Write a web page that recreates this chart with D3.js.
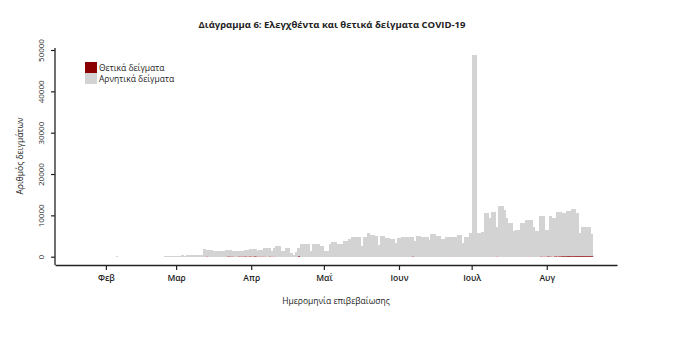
<!DOCTYPE html>
<html>
<head>
<meta charset="utf-8">
<script src="https://cdn.jsdelivr.net/npm/d3@7"></script>
<style>
  body { margin: 0; background: #fff; }
  svg { display: block; }
  text { font-family: "Open Sans", "Noto Sans", sans-serif; fill: #222; }
</style>
</head>
<body>
<script>
// Daily samples, starting 1 Feb 2020 (one value per day up to 19 Aug)
var startDate = "2020-02-01";

var negatives = [
  // Feb
  0,0,0,10,60,30,10,0,0,10, 0,0,10,0,0,20,10,0,0,10, 0,0,20,30,80,149,198,179,150,
  // Mar
  200,250,298,278,298,336,279,373,439,484, 510,1761,1527,1562,1569,1429,1394,1419,1404,1419,
  1565,1506,1429,1329,1352,1379,1376,1379,1505,1540, 1678,
  // Apr
  1730,1651,1246,1538,1542,1940,1976,1919,1348,2144, 2569,2580,1425,1425,2175,2169,937,483,1188,2044,
  2988,2967,2988,2990,1435,2989,2988,2985,2588,2585,
  // May
  1438,1435,2990,3492,3494,2991,2989,2990,3885,3894, 4294,4685,4795,4792,4790,2594,4690,4696,5642,5245,
  5247,4992,2790,5096,5100,4441,4435,4193,4193,3228, 4430,
  // Jun
  4448,4835,4841,4684,4688,4603,3786,4967,4985,4838, 4845,4837,3991,5392,5383,5080,5082,4275,4283,4669,
  4668,4801,4828,4840,5231,5240,3236,4686,4684,5637,
  // Jul
  48864,48886,5772,5786,5979,10479,10482,9250,10880,10872, 7235,12259,12281,11280,9279,8085,8068,6060,6481,6483,
  8167,8179,8873,8845,8873,7280,6072,6070,9722,9743, 6446,
  // Aug
  6390,9725,9248,9179,10803,10775,10347,10349,10897,10904, 11350,11238,10238,5596,7070,7083,7132,7083,5131
];

var positives = [
  // Feb
  0,0,0,0,0,0,0,0,0,0, 0,0,0,0,0,0,0,0,0,0, 0,0,0,0,0,1,2,1,0,
  // Mar
  0,0,2,2,22,14,21,7,11,16, 10,19,73,38,31,21,56,31,46,31, 35,94,71,71,48,71,74,71,95,60, 102,
  // Apr
  50,129,54,62,58,60,24,81,52,56, 31,20,25,25,25,31,33,17,12,156, 12,33,12,10,15,11,12,15,12,15,
  // May
  12,15,10,8,6,9,11,10,15,6, 6,15,5,8,10,6,10,4,8,5, 3,8,10,4,0,9,15,7,7,22, 20,
  // Jun
  2,15,9,16,12,97,14,33,15,12, 5,13,9,8,17,20,18,25,17,31, 32,49,22,10,19,10,14,14,16,13,
  // Jul
  36,14,28,14,21,21,18,50,20,28, 65,41,19,20,21,15,32,40,19,17, 33,21,27,55,27,20,28,30,78,57, 54,
  // Aug
  110,75,52,121,97,125,153,151,203,196, 150,262,262,204,230,217,168,217,269
];

var monthTicks = ["2020-02-01","2020-03-01","2020-04-01","2020-05-01","2020-06-01","2020-07-01","2020-08-01"];
var monthLabels = ["Φεβ","Μαρ","Απρ","Μαΐ","Ιουν","Ιουλ","Αυγ"];
var yTicks = [0, 10000, 20000, 30000, 40000, 50000];

var seriesNames = ["Θετικά δείγματα", "Αρνητικά δείγματα"];
var seriesColors = ["#8b0000", "#d3d3d3"];

var title = "Διάγραμμα 6: Ελεγχθέντα και θετικά δείγματα COVID-19";
var xTitle = "Ημερομηνία επιβεβαίωσης";
var yTitle = "Αριθμός δειγμάτων";

// build rows
var day0 = new Date(startDate + "T00:00:00Z");
var rows = negatives.map(function(n, i) {
  return { date: d3.utcDay.offset(day0, i), pos: positives[i], neg: n };
});

var width = 687, height = 339;
var svg = d3.select("body").append("svg")
    .attr("width", width)
    .attr("height", height);

var x = d3.scaleUtc()
    .domain([new Date("2020-01-11T00:00:00Z"), new Date("2020-08-30T00:00:00Z")])
    .range([55, 617]);

var y = d3.scaleLinear()
    .domain([0, 50000])
    .range([256.7, 50]);

var stack = d3.stack().keys(["pos", "neg"]);
var layers = stack(rows);

// negatives crisp (no seams), positives left soft like the original
svg.append("g")
  .selectAll("g")
  .data(layers)
  .join("g")
    .attr("fill", function(d, i) { return seriesColors[i]; })
    .attr("shape-rendering", function(d, i) { return i == 1 ? "crispEdges" : null; })
  .selectAll("rect")
  .data(function(d) { return d; })
  .join("rect")
    .attr("x", function(d) { return x(d.data.date); })
    .attr("width", function(d) { return x(d3.utcDay.offset(d.data.date, 1)) - x(d.data.date) + 0.5; })
    .attr("y", function(d) { return y(d[1]); })
    .attr("height", function(d) { return Math.max(0, y(d[0]) - y(d[1])); });

// x axis
var xAxis = d3.axisBottom(x)
    .tickValues(monthTicks.map(function(s) { return new Date(s + "T00:00:00Z"); }))
    .tickFormat(function(d, i) { return monthLabels[i]; })
    .tickSize(5)
    .tickSizeOuter(0);

var gx = svg.append("g")
    .attr("transform", "translate(0,265)")
    .call(xAxis);
gx.select(".domain").attr("stroke", "#222").attr("stroke-width", 1.3);
gx.selectAll(".tick line").attr("stroke", "#222").attr("stroke-width", 1.2);
gx.selectAll(".tick text")
    .attr("y", 10)
    .style("font-size", "8.5px")
    .style("font-weight", "600")
    .attr("fill", "#333");

// y axis
var yAxis = d3.axisLeft(y)
    .tickValues(yTicks)
    .tickFormat(d3.format("d"))
    .tickSize(4)
    .tickSizeOuter(0);

var gy = svg.append("g")
    .attr("transform", "translate(55,0)")
    .call(yAxis);
gy.select(".domain").remove();
gy.append("line")
    .attr("x1", 0).attr("x2", 0)
    .attr("y1", y(50000) - 2).attr("y2", 265)
    .attr("stroke", "#222").attr("stroke-width", 1.3);
gy.selectAll(".tick line").attr("stroke", "#222").attr("stroke-width", 1.2);
gy.selectAll(".tick text")
    .attr("x", null).attr("dy", null)
    .attr("transform", "translate(-11,0) rotate(-90)")
    .attr("text-anchor", "middle")
    .style("font-size", "8px")
    .attr("fill", "#333");

// titles
svg.append("text")
    .attr("x", 332)
    .attr("y", 28)
    .attr("text-anchor", "middle")
    .style("font-size", "9.5px")
    .style("font-weight", "bold")
    .text(title);

svg.append("text")
    .attr("x", 336)
    .attr("y", 304)
    .attr("text-anchor", "middle")
    .style("font-size", "8.5px")
    .text(xTitle);

svg.append("text")
    .attr("transform", "translate(23,156) rotate(-90)")
    .attr("text-anchor", "middle")
    .style("font-size", "8.5px")
    .text(yTitle);

// legend
var legend = svg.append("g").attr("transform", "translate(85,62)");
seriesNames.forEach(function(name, i) {
  legend.append("rect")
      .attr("x", 0)
      .attr("y", i * 11)
      .attr("width", 12)
      .attr("height", 11)
      .attr("fill", seriesColors[i]);
  legend.append("text")
      .attr("x", 14)
      .attr("y", i * 11 + 8.5)
      .style("font-size", "8.5px")
      .attr("fill", "#333")
      .text(name);
});
</script>
</body>
</html>
